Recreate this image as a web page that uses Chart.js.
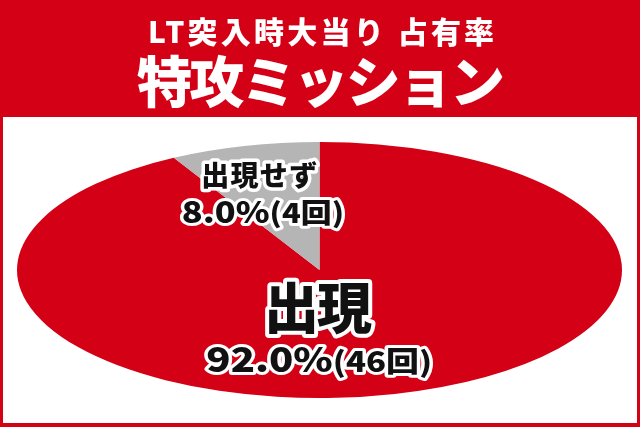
<!DOCTYPE html>
<html>
<head>
<meta charset="utf-8">
<script src="https://cdn.jsdelivr.net/npm/chart.js@4/dist/chart.umd.min.js"></script>
<style>
  html, body { margin: 0; padding: 0; background: #fff; }
  #wrap { position: relative; width: 640px; height: 427px; }
</style>
</head>
<body>
<div id="wrap"><canvas id="c"></canvas></div>
<script>
// ---- data ----
const categories = ['出現', '出現せず'];
const counts = [46, 4];
const titleLines = ['LT突入時大当り\u2005占有率', '特攻ミッション'];
const countSuffix = '回';

// ---- style ----
const RED = '#D40015';
const GRAY = '#B5B5B5';
const FONT = '"Noto Sans CJK JP", "Noto Sans", sans-serif';

const total = counts.reduce((a, b) => a + b, 0);
const pct = counts.map(v => (v / total * 100).toFixed(1) + '%');

function fitText(ctx, text, cx, cy, size, targetW, fill, strokeW) {
  ctx.font = `900 ${size}px ${FONT}`;
  ctx.letterSpacing = '0px';
  const n = [...text].length;
  let m = ctx.measureText(text);
  const ink = m.actualBoundingBoxLeft + m.actualBoundingBoxRight;
  const ls = n > 1 ? (targetW - ink) / (n - 1) : 0;
  ctx.letterSpacing = ls + 'px';
  m = ctx.measureText(text);
  const l = m.actualBoundingBoxLeft, r = m.actualBoundingBoxRight - Math.max(ls, 0);
  const x = cx - (r - l) / 2;
  const y = cy - (m.actualBoundingBoxDescent - m.actualBoundingBoxAscent) / 2;
  ctx.textAlign = 'left';
  ctx.textBaseline = 'alphabetic';
  if (strokeW) {
    ctx.lineJoin = 'round';
    ctx.strokeStyle = '#fff';
    ctx.lineWidth = strokeW;
    ctx.strokeText(text, x, y);
  }
  ctx.fillStyle = fill;
  ctx.fillText(text, x, y);
  ctx.letterSpacing = '0px';
}

// mixed-size line, stretched horizontally to the target width
function segText(ctx, segs, cx, baseline, targetW, strokeW) {
  ctx.letterSpacing = '0px';
  let nat = 0;
  segs.forEach(s => {
    ctx.font = `900 ${s.size}px ${FONT}`;
    const m = ctx.measureText(s.t);
    s.w = m.width;
    s.l = m.actualBoundingBoxLeft;
    s.r = m.actualBoundingBoxRight;
    nat += s.w;
  });
  // ink width ~ advance sum minus side bearings of first/last
  const first = segs[0], last = segs[segs.length - 1];
  const inkNat = nat + first.l - (last.w - last.r);
  const sx = targetW / inkNat;
  ctx.save();
  ctx.translate(cx - targetW / 2, baseline);
  ctx.scale(sx, 1);
  ctx.textAlign = 'left';
  ctx.textBaseline = 'alphabetic';
  ctx.lineJoin = 'round';
  for (const pass of ['stroke', 'fill']) {
    let x = first.l;
    segs.forEach(s => {
      ctx.font = `900 ${s.size}px ${FONT}`;
      if (pass === 'stroke') {
        ctx.strokeStyle = '#fff';
        ctx.lineWidth = strokeW;
        ctx.strokeText(s.t, x, 0);
      } else {
        ctx.fillStyle = '#111';
        ctx.fillText(s.t, x, 0);
      }
      x += s.w;
    });
  }
  ctx.restore();
}

const ellipsePlugin = {
  id: 'ellipse',
  beforeDraw(chart) {
    const { ctx, width, height } = chart;
    ctx.save();
    ctx.fillStyle = RED;
    ctx.fillRect(0, 0, width, height);
    ctx.fillStyle = '#fff';
    ctx.fillRect(3, 117, width - 6, height - 117 - 4);
    fitText(ctx, titleLines[0], width / 2, 32, 30, 343, '#fff', 0);
    fitText(ctx, titleLines[1], width / 2, 81, 55, 366, '#fff', 0);
    ctx.restore();
  },
  beforeDatasetsDraw(chart) {
    const ctx = chart.ctx;
    const arc = chart.getDatasetMeta(0).data[0];
    const ca = chart.chartArea;
    const sx = ((ca.right - ca.left) / 2) / arc.outerRadius;
    ctx.save();
    ctx.translate(arc.x, arc.y);
    ctx.scale(sx, 1);
    ctx.translate(-arc.x, -arc.y);
  },
  afterDatasetsDraw(chart) {
    const ctx = chart.ctx;
    ctx.restore();
    const arc = chart.getDatasetMeta(0).data[0];
    const cx = arc.x, cy = arc.y;
    ctx.save();
    // small slice label
    fitText(ctx, categories[1], cx - 60, cy - 95, 28, 114, '#111', 7);
    segText(ctx, [
      { t: pct[1], size: 30 },
      { t: '(' + counts[1] + countSuffix + ')', size: 27 }
    ], cx - 57, cy - 47, 159, 6);
    // big slice label
    fitText(ctx, categories[0], cx + 1, cy + 38, 55, 103, '#111', 8);
    segText(ctx, [
      { t: pct[0], size: 34 },
      { t: '(' + counts[0] + countSuffix + ')', size: 28 }
    ], cx - 1, cy + 102, 222, 6);
    ctx.restore();
  }
};

new Chart(document.getElementById('c'), {
  type: 'pie',
  data: {
    labels: categories,
    datasets: [{
      data: counts,
      backgroundColor: [RED, GRAY],
      borderWidth: 0,
      hoverOffset: 0
    }]
  },
  options: {
    responsive: true,
    maintainAspectRatio: false,
    animation: false,
    events: [],
    layout: { padding: { left: 17, right: 18, top: 142, bottom: 29 } },
    plugins: { legend: { display: false }, tooltip: { enabled: false }, title: { display: false } }
  },
  plugins: [ellipsePlugin]
});
</script>
</body>
</html>
